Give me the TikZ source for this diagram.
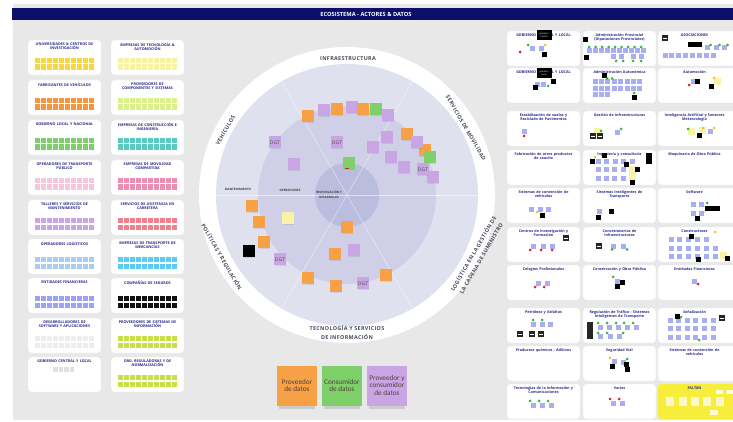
\documentclass[tikz,border=0pt]{standalone}
\usepackage{fontspec}
\setmainfont{Open Sans}
\newfontfamily\legfont{Carlito}
\newfontfamily\ringfont[LetterSpace=6]{Open Sans}
\definecolor{bgc}{HTML}{E8E8E8}
\definecolor{navy}{HTML}{0B0F6B}
\definecolor{ttlc}{HTML}{2D2A8A}
\definecolor{ringA}{HTML}{E0E1EF}
\definecolor{ringB}{HTML}{CFD0E7}
\definecolor{ringC}{HTML}{BBBDDF}
\definecolor{ringtxt}{HTML}{4A4A5C}
\definecolor{peri}{HTML}{A9ADF2}
\definecolor{nPurple}{HTML}{CAA5E4}
\definecolor{nOrange}{HTML}{F7A046}
\definecolor{nGreen}{HTML}{7ED06B}
\definecolor{nYellow}{HTML}{F8F3A8}
\definecolor{dGreen}{HTML}{3CB43C}
\definecolor{dRed}{HTML}{E0202A}
\definecolor{dYellow}{HTML}{F5C518}
\definecolor{faltan}{HTML}{F6EE3A}
\definecolor{legtxt}{HTML}{4E4038}
\definecolor{c1}{HTML}{F7D73C}
\definecolor{c2}{HTML}{F7F2A8}
\definecolor{c3}{HTML}{F5963C}
\definecolor{c4}{HTML}{D9F08C}
\definecolor{c5}{HTML}{7ECF6B}
\definecolor{c6}{HTML}{5CC9C1}
\definecolor{c7}{HTML}{F8C6DA}
\definecolor{c8}{HTML}{EC8DB2}
\definecolor{c9}{HTML}{C9A5E5}
\definecolor{c10}{HTML}{EF8090}
\definecolor{c11}{HTML}{A9CCF3}
\definecolor{c12}{HTML}{5BCBEF}
\definecolor{c13}{HTML}{9CA3F4}
\definecolor{c14}{HTML}{111111}
\definecolor{c15}{HTML}{EDEDED}
\definecolor{c16}{HTML}{C6DF4C}
\tikzset{
 card/.style={fill=white, draw=black!8, line width=0.3pt, rounded corners=3.5pt},
 lttl/.style={anchor=north, align=center, text width=80pt, inner sep=0pt, font=\bfseries\fontsize{3.7}{4.6}\selectfont, text=ttlc},
 rttl/.style={anchor=north, align=center, text width=80pt, inner sep=0pt, font=\bfseries\fontsize{3.7}{4.7}\selectfont, text=ttlc},
 ringlbl/.style={font=\ringfont\bfseries\fontsize{5.4}{9}\selectfont, text=ringtxt, align=center, inner sep=0pt},
 inlbl/.style={font=\bfseries\fontsize{3}{5.2}\selectfont, text=black!75, align=center, inner sep=0pt},
 dgt/.style={font=\fontsize{5}{5}\selectfont, text=black!70, inner sep=0pt},
 leg/.style={font=\legfont\fontsize{7.2}{7.7}\selectfont, align=center, inner sep=0pt, text=legtxt},
 blab/.style={font=\fontsize{2.2}{2.6}\selectfont, text=white, align=center, inner sep=0pt},
}
\newcommand\psq[2]{\fill[peri] (#1-2.5,#2-2.5) rectangle ++(5,5);}
\newcommand\pbk[2]{\fill[black] (#1-2.5,#2-2.5) rectangle ++(5,5);}
\newcommand\pyl[2]{\fill[nYellow] (#1-3.5,#2-3.5) rectangle ++(7,7);}
\newcommand\pdt[3]{\fill[#1] (#2,#3) circle (1.5pt);}
\newcommand\dki[2]{\fill[black!85] (#1-3,#2-3) rectangle ++(6,6); \draw[white,line width=.3pt] (#1-2,#2) -- (#1+2,#2);}
\newcommand\cnote[3]{\fill[black,opacity=.08] (#2-5.5,#3+6) rectangle ++(11,1.2); \fill[#1] (#2-6,#3-6) rectangle ++(12,12);}
\newcommand\lcard[5]{%
 \draw[card] (#2,#3) rectangle ++(73,35);
 \node[lttl] (#1) at (#2+36.5,#3+2.4) {#4};
 \foreach \i in {0,...,9}{\fill[#5] (#2+6.5+6*\i,#3+18) rectangle ++(5.1,5.2); \fill[#5] (#2+6.5+6*\i,#3+24.5) rectangle ++(5.1,5.2);}
}
\newcommand\rcard[5]{%
 \draw[card] (#2,#3) rectangle ++(#4,35);
 \node[rttl] (#1) at (#2+36.5,#3+2.2) {#5};
}
\begin{document}
\begin{tikzpicture}[x=1pt,y=-1pt]
\useasboundingbox (0,0) rectangle (733,422);
\fill[white] (0,0) rectangle (733,422);
\fill[bgc] (13,4) rectangle (733,420);
\fill[navy] (12,8) rectangle (733,20);
\node[font=\bfseries\fontsize{5.7}{6}\selectfont, text=white, inner sep=0pt] (title) at (366,14.2) {ECOSISTEMA - ACTORES \& DATOS};

% ---------------- left panel
\lcard{l1}{28}{40}{UNIVERSIDADES \& CENTROS DE\\INVESTIGACIÓN}{c1}
\lcard{l2}{111}{40}{EMPRESAS DE TECNOLOGÍA \&\\AUTOMOCIÓN}{c2}
\lcard{l3}{28}{80}{FABRICANTES DE VEHÍCULOS}{c3}
\lcard{l4}{111}{80}{PROVEEDORES DE\\COMPONENTES Y SISTEMAS}{c4}
\lcard{l5}{28}{120}{GOBIERNO LOCAL Y NACIONAL}{c5}
\lcard{l6}{111}{120}{EMPRESAS DE CONSTRUCCIÓN E\\INGENIERÍA}{c6}
\lcard{l7}{28}{160}{OPERADORES DE TRANSPORTE\\PÚBLICO}{c7}
\lcard{l8}{111}{160}{EMPRESAS DE MOVILIDAD\\COMPARTIDA}{c8}
\lcard{l9}{28}{200}{TALLERES Y SERVICIOS DE\\MANTENIMIENTO}{c9}
\lcard{l10}{111}{200}{SERVICIOS DE ASISTENCIA EN\\CARRETERA}{c10}
\lcard{l11}{28}{239}{OPERADORES LOGÍSTICOS}{c11}
\lcard{l12}{111}{239}{EMPRESAS DE TRANSPORTE DE\\MERCANCÍAS}{c12}
\lcard{l13}{28}{278}{ENTIDADES FINANCIERAS}{c13}
\lcard{l14}{111}{278}{COMPAÑÍAS DE SEGUROS}{c14}
\lcard{l15}{28}{318}{DESARROLLADORES DE\\SOFTWARE Y APLICACIONES}{c15}
\lcard{l16}{111}{318}{PROVEEDORES DE SISTEMAS DE\\INFORMACIÓN}{c16}
\draw[card] (28,357) rectangle ++(73,35);
\node[lttl] (l17) at (64.5,359.4) {GOBIERNO CENTRAL Y LOCAL};
\foreach \i in {0,...,3}{\fill[black!12] (53+5.5*\i,367) rectangle ++(4.6,5);}
\lcard{l18}{111}{357}{ORG. REGULADORAS Y DE\\NORMALIZACIÓN}{c16}

% ---------------- circle
\fill[white] (347,195) circle (148pt);
\fill[ringA] (347,195) circle (131pt);
\fill[ringB] (347,195) circle (89pt);
\fill[ringC] (347,195) circle (32pt);
\foreach \a in {0,60,...,300}{\draw[white,opacity=.55,line width=.5pt] (347,195) -- ++(\a:131pt);}
\node[ringlbl] (rInf) at (348,59) {INFRAESTRUCTURA};
\node[ringlbl,rotate=-60] (rMov) at (466,128) {SERVICIOS DE MOVILIDAD};
\node[ringlbl,rotate=60] (rLog) at (477,256) {LOGÍSTICA EN LA GESTIÓN DE\\LA CADENA DE SUMINISTRO};
\node[ringlbl] (rTec) at (347,332.5) {TECNOLOGÍA Y SERVICIOS\\DE INFORMACIÓN};
\node[ringlbl,rotate=-60] (rPol) at (222,257) {POLÍTICAS Y REGULACIÓN};
\node[ringlbl,rotate=60] (rVeh) at (225,130) {VEHÍCULOS};
\node[inlbl] (iMan) at (238,189) {MANTENIMIENTO};
\node[inlbl] (iOpe) at (290,190) {OPERACIONES};
\node[inlbl] (iInv) at (329,194.5) {INVESTIGACIÓN Y\\DESARROLLO};

% circle sticky notes
\cnote{nOrange}{308}{116}
\cnote{nPurple}{324}{110}
\cnote{nOrange}{337}{109}
\cnote{nPurple}{352}{107}
\cnote{nOrange}{363}{109}
\cnote{nGreen}{376}{109}
\cnote{nPurple}{388}{115}
\cnote{nOrange}{407}{134}
\cnote{nPurple}{387}{137}
\cnote{nPurple}{373}{147}
\cnote{nPurple}{391}{157}
\cnote{nPurple}{404}{167}
\cnote{nOrange}{425}{150}
\cnote{nPurple}{417}{142}
\cnote{nGreen}{430}{157}
\cnote{nPurple}{433}{177}
\cnote{nPurple}{423}{169}
\node[dgt] (d1) at (423,169.5) {DGT};
\cnote{nPurple}{275}{142}
\node[dgt] (d2) at (275,142.5) {DGT};
\cnote{nPurple}{337}{142}
\node[dgt] (d3) at (337,142.5) {DGT};
\cnote{nPurple}{294}{164}
\cnote{nGreen}{349}{163}
\fill[dRed] (345,168) rectangle ++(4,1.5);
\cnote{nOrange}{252}{206}
\fill[dYellow] (247,211) rectangle ++(4,1.2);
\cnote{nYellow}{288}{218}
\cnote{nOrange}{259}{222}
\cnote{nOrange}{347}{227}
\cnote{nOrange}{264}{242}
\cnote{black}{249}{251}
\cnote{nPurple}{280}{259}
\node[dgt] (d4) at (280,259.5) {DGT};
\cnote{nPurple}{354}{250}
\cnote{nOrange}{335}{254}
\cnote{nOrange}{308}{278}
\fill[dYellow] (303,283) rectangle ++(4,1.2);
\cnote{nOrange}{336}{286}
\cnote{nPurple}{363}{283}
\node[dgt] (d5) at (363,283.5) {DGT};
\cnote{nOrange}{386}{275}

% legend
\fill[black,opacity=.12] (279,406) rectangle (315,409);
\fill[black,opacity=.12] (324,406) rectangle (360,409);
\fill[black,opacity=.12] (369,406) rectangle (405,409);
\fill[nOrange] (277,366) rectangle (317,406);
\fill[nGreen] (322,366) rectangle (362,406);
\fill[nPurple] (367,366) rectangle (407,406);
\node[leg] (g1) at (297,385.5) {Proveedor\\de datos};
\node[leg] (g2) at (342,385.5) {Consumidor\\de datos};
\node[leg] (g3) at (387,385.5) {Proveedor y\\consumidor\\de datos};

% ---------------- right panel
% row 1
\rcard{r11}{507}{31}{73}{GOBIERNO CENTRAL Y LOCAL}
\rcard{r12}{583}{31}{73}{Administración Provincial\\(Diputaciones Provinciales)}
\rcard{r13}{658}{31}{80}{ASOCIACIONES}
\fill[black] (536.5,30) rectangle ++(15,10);
\node[blab] (b1) at (544,35) {gobierno\\central};
\psq{532}{49}\psq{541}{49}\pbk{544}{55}
\pdt{dRed}{520}{52}\pdt{dGreen}{528}{45}\pdt{dYellow}{545}{45}
\pbk{585}{40}\pbk{586}{58}
\foreach \i in {0,...,9}{\psq{589+6*\i}{51}}
\foreach \i in {0,...,8}{\pdt{dGreen}{589+6.5*\i}{47}}
\psq{613}{57}\psq{621}{57}\psq{633}{57}\psq{641}{57}
\pdt{dGreen}{616}{61}\pdt{dGreen}{623}{61}\pdt{dGreen}{633}{61}\pdt{dGreen}{641}{61}
\dki{665}{38}
\fill[black] (688,42.5) rectangle (702,47.5);
\psq{707}{48}\psq{716}{48}\psq{724}{48}
\pdt{dGreen}{710.5}{45}\pdt{dGreen}{719.5}{45}\pdt{dGreen}{727.5}{45}
\foreach \i in {0,...,7}{\psq{665+6.9*\i}{56}}
% row 2
\rcard{r21}{507}{68}{73}{GOBIERNO CENTRAL Y LOCAL}
\rcard{r22}{583}{68}{73}{Administración Autonómica}
\rcard{r23}{658}{68}{80}{Automoción}
\fill[black] (536.5,68) rectangle ++(15,10);
\node[blab] (b2) at (544,73) {gobierno\\local};
\psq{537}{85}\psq{543}{85}\pbk{535}{88}\pbk{553}{82}\pdt{dGreen}{548}{86}
\foreach \i in {0,...,7}{\psq{595+6.4*\i}{82}\psq{595+6.4*\i}{88.5}}
\psq{595}{95}\psq{601.4}{95}\psq{607.8}{95}
\pbk{604}{76}\pdt{dGreen}{607}{78.5}\pdt{dGreen}{612}{78.5}
\pdt{dGreen}{634}{93}\pbk{634}{98}
\pyl{717}{82}\psq{693}{82}\pbk{697.5}{82}\pbk{711}{87}
\pdt{dRed}{689}{85}\pdt{dYellow}{714}{78}
% row 3
\rcard{r31}{507}{111}{73}{Estabilización de suelos y\\Reciclado de Pavimentos}
\rcard{r32}{583}{111}{73}{Gestión de infraestructuras}
\rcard{r33}{658}{111}{80}{Inteligencia Artificial y Sensores\\Meteorología}
\psq{524}{132}\pdt{dRed}{524}{136}
\pyl{597}{132}\dki{593}{136}\dki{599.5}{136}\pdt{dGreen}{601}{131}
\psq{617}{133}\pdt{dGreen}{621}{129}
\pyl{691}{132}\pyl{702}{131}\psq{710}{132}\pbk{699}{136}
\pdt{dGreen}{688}{129}\pdt{dYellow}{703}{128}\pdt{dYellow}{714}{128}
% row 4
\rcard{r41}{507}{150}{73}{Fabricación de otros productos\\de caucho}
\rcard{r42}{583}{150}{73}{Ingeniería y consultoría}
\rcard{r43}{658}{150}{80}{Maquinaria de Obra Pública}
\foreach \i in {0,...,4}{\psq{598+8.5*\i}{162}}
\foreach \i in {0,...,3}{\psq{598+8.4*\i}{170}\psq{598+8.4*\i}{179}}
\pbk{592}{162}\pbk{604}{156}\pdt{dYellow}{595}{157}
\fill[black] (646,153) rectangle ++(5.5,11);
\pbk{626}{165}\pyl{632}{170}\pbk{637}{170}\pyl{632}{177}\pbk{632}{183}
% row 5
\rcard{r51}{507}{188}{73}{Sistemas de contención de\\vehículos}
\rcard{r52}{583}{188}{73}{Sistemas Inteligentes de\\Transporte}
\rcard{r53}{658}{188}{80}{Software}
\psq{531}{209}\psq{540}{209}\psq{548}{209}\pbk{542}{215}\pdt{dYellow}{537}{212}
\psq{599}{211}\pbk{611}{211}\pbk{598}{217}
\psq{693}{204}\psq{701}{204}\psq{693}{213}\psq{701}{213}
\fill[black] (705,206) rectangle (720,211);
\pbk{697}{218}\pdt{dGreen}{707}{203}
% row 6
\rcard{r61}{507}{227}{73}{Centros de Investigación y\\Formación}
\rcard{r62}{583}{227}{73}{Concesionarias de\\Infraestructuras}
\rcard{r63}{658}{227}{80}{Constructoras}
\dki{566}{238}
\psq{533}{246}\psq{543}{246}\psq{552}{246}
\pdt{dRed}{530}{250}\pdt{dRed}{541}{250}\pdt{dRed}{552}{250}
\dki{599}{246}\psq{613}{246}\psq{623}{246}\pdt{dGreen}{612}{249.5}\pdt{dGreen}{627}{249.5}
\pdt{dYellow}{715}{232}
\foreach \i in {0,...,4}{\psq{671+8.8*\i}{239.5}\psq{671+8.8*\i}{248}\psq{671+8.8*\i}{256.5}}
\psq{715}{248}\psq{715}{256.5}
\pbk{691}{236}\pbk{698}{259.5}\pyl{723}{255}\pbk{727}{258.5}
% row 7
\rcard{r71}{507}{265}{73}{Colegios Profesionales}
\rcard{r72}{583}{265}{73}{Conservación y Obra Pública}
\rcard{r73}{658}{265}{80}{Entidades Financieras}
\psq{538}{283}\psq{547}{283}\pdt{dRed}{535}{287}\pdt{dRed}{544}{287}
\psq{617}{281}\pbk{622}{282}\pbk{617}{286}\pdt{dGreen}{613}{277}
\psq{694}{281}\pdt{dRed}{698}{284}
% row 8
\rcard{r81}{507}{308}{73}{Petróleos y Asfaltos}
\rcard{r82}{583}{308}{73}{Regulación de Tráfico - Sistemas\\Inteligentes de Transporte}
\rcard{r83}{658}{308}{80}{Señalización}
\psq{533}{324}\psq{542}{324}\psq{550}{324}\pdt{dGreen}{533}{320}\pdt{dGreen}{542}{320}
\dki{520}{334}\dki{532}{334}\dki{541}{334}
\fill[black!85] (587,322) rectangle ++(6,17);
\foreach \i in {0,...,4}{\psq{600+9.2*\i}{327}}
\psq{600}{336}\psq{610}{336}\psq{619}{336}
\foreach \x in {598,607,616,624,633}{\pdt{dGreen}{\x}{323}}
\pdt{dGreen}{598}{333}\pdt{dGreen}{607}{333}\pdt{dGreen}{623}{333}
\foreach \i in {0,...,5}{\psq{670+8.6*\i}{320}\psq{670+8.6*\i}{328.5}\psq{670+8.6*\i}{337}}
\pbk{677}{316}\pdt{dGreen}{681}{317}\dki{722}{318}\pdt{dGreen}{699}{340}
% row 9
\rcard{r91}{507}{346}{73}{Productos químicos - Aditivos}
\rcard{r92}{583}{346}{73}{Seguridad Vial}
\rcard{r93}{658}{346}{80}{Sistemas de contención de\\vehículos}
\psq{614}{361}\psq{623}{362}\pbk{612}{366}\pbk{626}{364}\pbk{627}{369}
\pdt{dYellow}{610}{358}\pdt{dGreen}{627}{359}
% row 10
\rcard{r101}{507}{384}{73}{Tecnologías de la Información y\\Comunicaciones}
\rcard{r102}{583}{384}{73}{Varios}
\fill[faltan,rounded corners=3.5pt] (658,384) rectangle ++(80,35);
\node[rttl] (r103) at (694.5,386.2) {FALTAN};
\psq{533}{405}\psq{542}{405}\psq{551}{405}
\pdt{dGreen}{530}{401}\pdt{dGreen}{539}{401}\pdt{dGreen}{548}{401}
\psq{613}{403}\psq{622}{403}\pdt{dRed}{610}{399}\pdt{dRed}{619}{399}
\foreach \x in {670,683,695,707,720}{\fill[nYellow!60!white] (\x-4,397) rectangle ++(8,9);}
\fill[white!80!faltan] (716,390) rectangle ++(7,4);
\fill[white!80!faltan] (726,390) rectangle ++(7,4);
\fill[white!80!faltan] (710,410) rectangle ++(8,5);
\end{tikzpicture}
\end{document}
